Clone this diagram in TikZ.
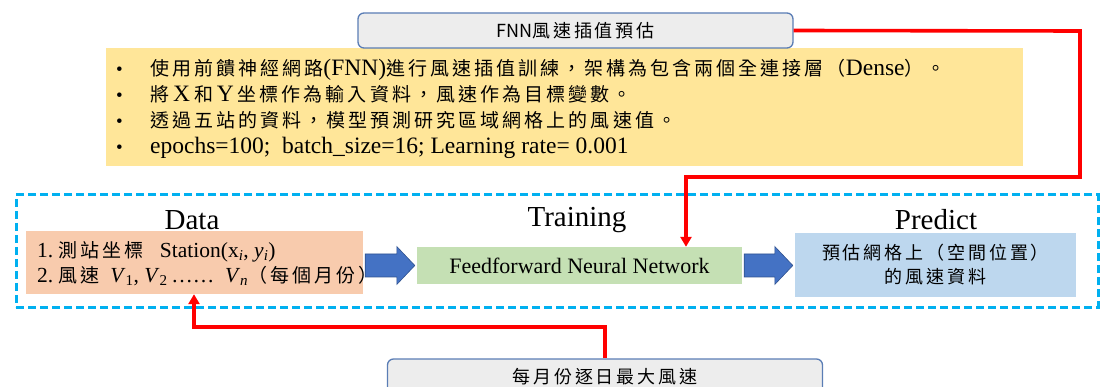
\documentclass[tikz,border=0pt]{standalone}
\usepackage{fontspec}
\setmainfont{Liberation Serif}
\newfontfamily\cjk[LetterSpace=16]{Noto Sans CJK TC}
\newfontfamily\cjkplain{Noto Sans CJK TC}
\newcommand{\ckb}[1]{{\fontsize{19}{26}\selectfont\cjk #1}}
\newcommand{\ckd}[1]{{\fontsize{19}{25}\selectfont\cjk #1}}
\usetikzlibrary{arrows.meta,calc}
\definecolor{yelfill}{HTML}{FFE699}
\definecolor{grayfill}{HTML}{EDEDED}
\definecolor{grayedge}{HTML}{5A7DB5}
\definecolor{datafill}{HTML}{F8CBAD}
\definecolor{trainfill}{HTML}{C5E0B4}
\definecolor{predfill}{HTML}{BDD7EE}
\definecolor{arrowfill}{HTML}{4472C4}
\definecolor{arrowedge}{HTML}{2F528F}
\definecolor{dashcol}{HTML}{00B0F0}
\definecolor{redcol}{HTML}{FF0000}
\begin{document}
\begin{tikzpicture}[x=1pt,y=-1pt,
  graybox/.style={draw=grayedge,line width=1.3pt,fill=grayfill,rounded corners=6pt,
    minimum width=435,minimum height=35,inner sep=0,font=\fontsize{18}{22}\selectfont},
  plainbox/.style={draw=none,inner sep=0},
  framebox/.style={draw=dashcol,line width=3pt,dash pattern=on 8pt off 4pt,inner sep=0},
  steplabel/.style={inner sep=0,font=\fontsize{29}{32}\selectfont},
  redline/.style={draw=redcol,line width=3.6pt,-{Triangle[length=10pt,width=11pt]}},
  blockarrow/.style={fill=arrowfill,draw=arrowedge,line width=0.6pt}
]
\useasboundingbox (0,0) rectangle (1116,387);
\clip (0,0) rectangle (1116,387);

% notes box
\node[plainbox,fill=yelfill,minimum width=917,minimum height=118] (notes) at (564.5,107) {};
\node[anchor=west,align=left,inner sep=0,font=\fontsize{23.5}{26}\selectfont] (bullets) at (116,109)
 {\makebox[34pt][l]{\fontsize{19}{26}\selectfont •}\ckb{使用前饋神經網路}(FNN)\ckb{進行風速插值訓練，架構為包含兩個全連接層（}Dense\ckb{）。}\\
  \makebox[34pt][l]{\fontsize{19}{26}\selectfont •}\ckb{將}\,X\,\ckb{和}\,Y\,\ckb{坐標作為輸入資料，風速作為目標變數。}\\
  \makebox[34pt][l]{\fontsize{19}{26}\selectfont •}\ckb{透過五站的資料，模型預測研究區域網格上的風速值。}\\
  \makebox[34pt][l]{\fontsize{19}{26}\selectfont •}epochs=100;\ \ batch\_size=16; Learning rate= 0.001};

% top box
\node[graybox] (fnn) at (575.5,30.5) {{\cjkplain FNN}{\cjk 風速插值預估}};

% dashed frame
\node[framebox,minimum width=1082,minimum height=112] (frame) at (557,251) {};

% labels
\node[steplabel] (ldata) at (192,220) {Data};
\node[steplabel] (ltrain) at (577,220) {Training};
\node[steplabel] (lpred) at (936,220) {Predict};

% data box
\node[plainbox,fill=datafill,minimum width=337,minimum height=63] (data) at (194.5,262.5) {};
\node[anchor=west,align=left,inner sep=0,font=\fontsize{21.5}{25}\selectfont] (datatext) at (37,264)
 {1.\ \ckd{測站坐標}\ \ \ Station(x\textsubscript{\itshape i}, \textit{y}\textsubscript{\itshape i})\\
  2.\ \ckd{風速}\ \ \textit{V}\textsubscript{1}, \textit{V}\textsubscript{2}\,……\ \ \textit{V}\textsubscript{\itshape n}\ckd{（每個月份）}};

% training box
\node[plainbox,fill=trainfill,minimum width=325,minimum height=37,font=\fontsize{22}{26}\selectfont] (train) at (579.5,265.5) {Feedforward Neural Network};

% predict box
\node[plainbox,fill=predfill,minimum width=281,minimum height=64,align=center,font=\fontsize{18}{24}\selectfont] (pred) at (935.5,265) {\cjk 預估網格上（空間位置）\\ \cjk 的風速資料};

% bottom box
\node[graybox] (mon) at (605,376.5) {\cjk 每月份逐日最大風速};

% block arrows
\filldraw[blockarrow] let \p1=(data.east), \p2=(train.west) in
  (\x1+2pt,\y2+11.5pt) -- (\x2-20pt,\y2+11.5pt) -- (\x2-20pt,\y2+19pt) -- (\x2-2pt,\y2)
  -- (\x2-20pt,\y2-19pt) -- (\x2-20pt,\y2-11.5pt) -- (\x1+2pt,\y2-11.5pt) -- cycle;
\filldraw[blockarrow] let \p1=(train.east), \p2=(pred.west) in
  (\x1+2pt,\y1+11.5pt) -- (\x2-20pt,\y1+11.5pt) -- (\x2-20pt,\y1+19pt) -- (\x2-2pt,\y1)
  -- (\x2-20pt,\y1-19pt) -- (\x2-20pt,\y1-11.5pt) -- (\x1+2pt,\y1-11.5pt) -- cycle;

% red connectors
\coordinate (r1) at (1080,31);
\coordinate (r2) at (686,177);
\draw[redline] (fnn.east) -- (r1) |- (r2) -- (r2 |- train.north);
\coordinate (r3) at (194,327);
\draw[redline] (mon.north) |- (r3) -- (r3 |- data.south);
\end{tikzpicture}
\end{document}
